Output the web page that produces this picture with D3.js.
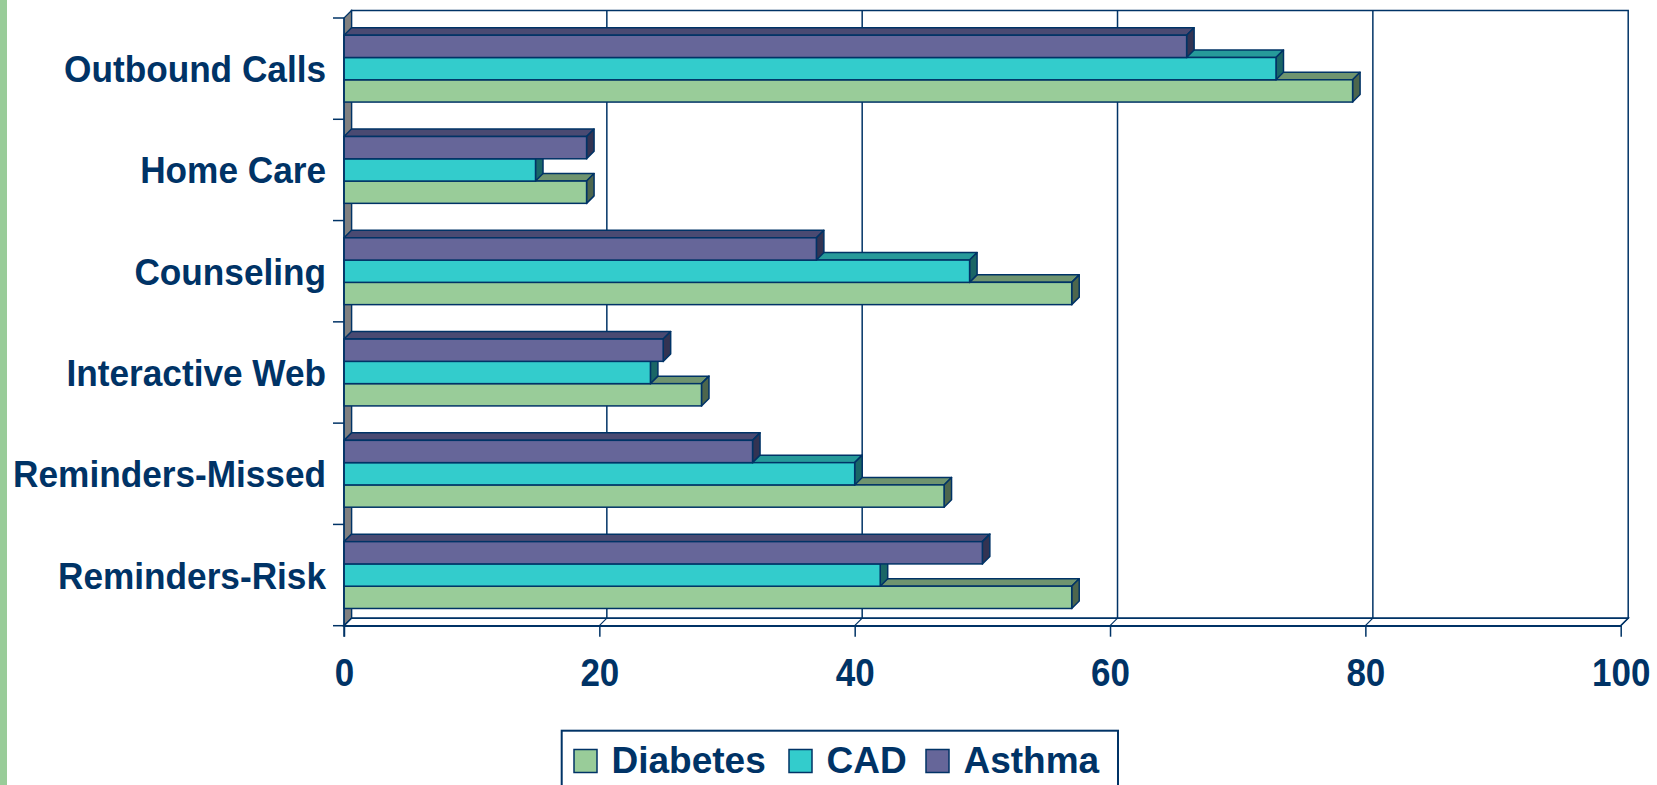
<!DOCTYPE html>
<html>
<head>
<meta charset="utf-8">
<script src="https://cdn.jsdelivr.net/npm/d3@7"></script>
<style>
  body { margin: 0; background: #fff; }
  svg { display: block; }
  text { font-family: "Liberation Sans", Arial, sans-serif; font-weight: bold; fill: #003366; }
</style>
</head>
<body>
<svg width="1657" height="785"></svg>
<script>
// data, top row of the chart first
var categories = ["Outbound Calls", "Home Care", "Counseling", "Interactive Web", "Reminders-Missed", "Reminders-Risk"];
var seriesNames = ["Diabetes", "CAD", "Asthma"];
var diabetes = [79, 19, 57, 28, 47, 57];
var cad = [73, 15, 49, 24, 40, 42];
var asthma = [66, 19, 37, 25, 32, 50];
var xTicks = [0, 20, 40, 60, 80, 100];

var values = { Diabetes: diabetes, CAD: cad, Asthma: asthma };
var front = { Diabetes: "#99cc99", CAD: "#33cccc", Asthma: "#666699" };
var topc = { Diabetes: "#6f946f", CAD: "#269a9a", Asthma: "#4a4a72" };
var sidec = { Diabetes: "#4d664d", CAD: "#1a6666", Asthma: "#333352" };
var ink = "#003366";

var svg = d3.select("svg");
var d = 7.5; // 3d depth

var x = d3.scaleLinear().domain([0, 100]).range([344, 1620.7]);
var y = d3.scaleBand().domain(categories).range([18, 625.7]).paddingInner(0.34).paddingOuter(0.17);
var ys = d3.scaleBand().domain(["Asthma", "CAD", "Diabetes"]).range([0, y.bandwidth()]);

var y0 = y.range()[0], y1 = y.range()[1];
var x0 = x(0), x1 = x(100);

// left green stripe
svg.append("rect").attr("x", 0).attr("y", 0).attr("width", 7).attr("height", 785).attr("fill", "#99cc99");

// back wall
svg.append("rect")
  .attr("x", x0 + d).attr("y", y0 - d)
  .attr("width", x1 - x0).attr("height", y1 - y0)
  .attr("fill", "#fff").attr("stroke", ink).attr("stroke-width", 1.5);

svg.selectAll(".grid")
  .data(xTicks.slice(1, -1))
  .enter().append("line")
  .attr("x1", (v) => x(v) + d).attr("x2", (v) => x(v) + d)
  .attr("y1", y0 - d).attr("y2", y1 - d)
  .attr("stroke", ink).attr("stroke-width", 1.5);

// left side wall
svg.append("polygon")
  .attr("points", [[x0, y0], [x0 + d, y0 - d], [x0 + d, y1 - d], [x0, y1]].join(" "))
  .attr("fill", "#808080").attr("stroke", ink).attr("stroke-width", 1.2);

// floor
svg.append("polygon")
  .attr("points", [[x0, y1], [x1, y1], [x1 + d, y1 - d], [x0 + d, y1 - d]].join(" "))
  .attr("fill", "#fff").attr("stroke", ink).attr("stroke-width", 1.5);

svg.selectAll(".floorTick")
  .data(xTicks)
  .enter().append("line")
  .attr("x1", (v) => x(v)).attr("x2", (v) => x(v) + d)
  .attr("y1", y1).attr("y2", y1 - d)
  .attr("stroke", ink).attr("stroke-width", 1.2);

// bars, bottom series first so the upper bar hides the lower top face
categories.forEach(function (c, i) {
  var g = svg.append("g");
  ["Diabetes", "CAD", "Asthma"].forEach(function (s) {
    var v = values[s][i];
    var bx0 = x(0), bx1 = x(v);
    var by = y(c) + ys(s), h = ys.bandwidth();
    g.append("polygon")
      .attr("points", [[bx0, by], [bx1, by], [bx1 + d, by - d], [bx0 + d, by - d]].join(" "))
      .attr("fill", topc[s]).attr("stroke", ink).attr("stroke-width", 1.5).attr("stroke-linejoin", "round");
    g.append("polygon")
      .attr("points", [[bx1, by], [bx1 + d, by - d], [bx1 + d, by + h - d], [bx1, by + h]].join(" "))
      .attr("fill", sidec[s]).attr("stroke", ink).attr("stroke-width", 1.5).attr("stroke-linejoin", "round");
    g.append("rect")
      .attr("x", bx0).attr("y", by)
      .attr("width", bx1 - bx0).attr("height", h)
      .attr("fill", front[s]).attr("stroke", ink).attr("stroke-width", 1.5);
  });
});

// left axis: line plus ticks at category boundaries
svg.append("line")
  .attr("x1", x0).attr("x2", x0).attr("y1", y0).attr("y2", y1 + 11)
  .attr("stroke", ink).attr("stroke-width", 1.5);
svg.selectAll(".ytick")
  .data(d3.range(categories.length + 1))
  .enter().append("line")
  .attr("x1", x0 - 11).attr("x2", x0)
  .attr("y1", (k) => y0 + k * y.step()).attr("y2", (k) => y0 + k * y.step())
  .attr("stroke", ink).attr("stroke-width", 1.5);

// category labels, slightly tall like the original
svg.selectAll(".ylabel")
  .data(categories)
  .enter().append("g")
  .attr("transform", (c) => "translate(326," + (y(c) + y.bandwidth() / 2 + 13.5) + ") scale(1,1.05)")
  .append("text")
  .attr("text-anchor", "end")
  .style("font-size", "35.2px")
  .text((c) => c);

// bottom axis
var xAxis = d3.axisBottom(x).tickValues(xTicks).tickSize(11).tickSizeOuter(0).tickPadding(23);
var ax = svg.append("g").attr("transform", "translate(0," + y1 + ")").call(xAxis);
ax.select(".domain").attr("stroke", ink).attr("stroke-width", 1.5);
ax.selectAll(".tick line").attr("stroke", ink).attr("stroke-width", 1.5);
ax.selectAll(".tick text")
  .attr("fill", ink)
  .attr("y", 0).attr("dy", null)
  .attr("transform", "translate(0,60.5) scale(1,1.1)")
  .style("font-family", "'Liberation Sans', Arial, sans-serif")
  .style("font-weight", "bold")
  .style("font-size", "35px");

// legend
var legend = svg.append("g");
legend.append("rect")
  .attr("x", 561.7).attr("y", 730.7).attr("width", 556.3).attr("height", 80)
  .attr("fill", "#fff").attr("stroke", ink).attr("stroke-width", 2);
var legendX = [574, 789, 926];
seriesNames.forEach(function (s, k) {
  legend.append("rect")
    .attr("x", legendX[k]).attr("y", 749.5).attr("width", 23).attr("height", 23)
    .attr("fill", front[s]).attr("stroke", ink).attr("stroke-width", 1.5);
  legend.append("text")
    .attr("x", legendX[k] + 37.5).attr("y", 773)
    .style("font-size", "37px")
    .text(s);
});
</script>
</body>
</html>
